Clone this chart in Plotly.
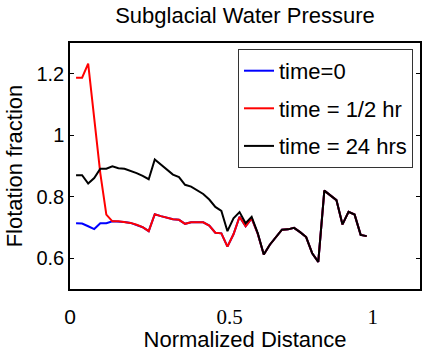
import plotly.graph_objects as go

# Normalized distance
distance = [0.02, 0.04, 0.06, 0.08, 0.10, 0.12, 0.14, 0.16, 0.18, 0.20,
            0.22, 0.24, 0.26, 0.28, 0.30, 0.32, 0.34, 0.36, 0.38, 0.40,
            0.42, 0.44, 0.46, 0.48, 0.50, 0.52, 0.54, 0.56, 0.58, 0.60,
            0.62, 0.64, 0.66, 0.68, 0.70, 0.72, 0.74, 0.76, 0.78, 0.80,
            0.82, 0.84, 0.86, 0.88, 0.90, 0.92, 0.94, 0.96, 0.98]

# time = 24 hrs
ff_24h = [0.870, 0.870, 0.843, 0.861, 0.891, 0.891, 0.899, 0.893, 0.891, 0.885,
          0.877, 0.868, 0.857, 0.921, 0.905, 0.890, 0.872, 0.864, 0.839, 0.833,
          0.822, 0.809, 0.791, 0.767, 0.754, 0.688, 0.730, 0.750, 0.714, 0.735,
          0.682, 0.612, 0.644, 0.667, 0.693, 0.694, 0.699, 0.685, 0.669, 0.616,
          0.588, 0.820, 0.805, 0.789, 0.710, 0.751, 0.742, 0.676, 0.672]

# time = 1/2 hr
ff_half = [1.187, 1.187, 1.233, 1.054, 0.877, 0.742, 0.720, 0.720, 0.718, 0.715,
           0.709, 0.701, 0.688, 0.743, 0.737, 0.731, 0.727, 0.725, 0.712, 0.717,
           0.717, 0.717, 0.706, 0.683, 0.681, 0.638, 0.678, 0.735, 0.704, 0.730,
           0.680, 0.612, 0.644, 0.667, 0.693, 0.694, 0.699, 0.685, 0.669, 0.616,
           0.588, 0.820, 0.805, 0.789, 0.710, 0.751, 0.742, 0.676, 0.672]

# time = 0
ff_0 = [0.714, 0.713, 0.704, 0.695, 0.714, 0.714, 0.720, 0.720, 0.718, 0.715,
        0.709, 0.701, 0.688, 0.743, 0.737, 0.731, 0.727, 0.725, 0.712, 0.717,
        0.717, 0.717, 0.706, 0.683, 0.681, 0.638, 0.678, 0.735, 0.704, 0.730,
        0.680, 0.612, 0.644, 0.667, 0.693, 0.694, 0.699, 0.685, 0.669, 0.616,
        0.588, 0.820, 0.805, 0.789, 0.710, 0.751, 0.742, 0.676, 0.672]

series_names = ["time=0", "time = 1/2 hr", "time = 24 hrs"]
series_colors = ["#0000FF", "#FF0000", "#000000"]

x_tickvals = [0, 0.527, 1]
x_ticktext = ["0",
              "<span style=\"font-family:'Liberation Serif'\">0.5</span>",
              "<span style=\"font-family:'Liberation Serif'\">1</span>"]
top_tickvals = [0.383, 0.770]

FONT = "Liberation Sans, Arial, sans-serif"

fig = go.Figure()
for name, ys, col in zip(series_names, [ff_0, ff_half, ff_24h], series_colors):
    fig.add_trace(go.Scatter(x=distance, y=ys, mode="lines", name=name,
                             legendgroup=name,
                             line=dict(color=col, width=2)))

fig.update_layout(
    width=424, height=352,
    margin=dict(l=70, r=2, t=43, b=58),
    paper_bgcolor="white", plot_bgcolor="white",
    font=dict(family=FONT, color="black", size=20),
    title=dict(text="Subglacial Water Pressure", x=0.5, xanchor="center",
               xref="paper", y=1 - 15/352, yanchor="middle",
               font=dict(size=22, family=FONT, color="black")),
    legend=dict(x=0.48, xanchor="left", y=0.976, yanchor="top",
                bgcolor="white", bordercolor="#333333", borderwidth=1,
                font=dict(size=22, family=FONT),
                traceorder="grouped", tracegroupgap=6),
    showlegend=True,
    xaxis=dict(range=[0, 1.156], tickvals=x_tickvals, ticktext=x_ticktext,
               ticks="", showgrid=False, zeroline=False,
               showline=True, linecolor="black", linewidth=1.5, mirror=True,
               tickfont=dict(size=21, family=FONT), ticklabelstandoff=8,
               title=dict(text="Normalized Distance", standoff=6,
                          font=dict(size=22, family=FONT))),
    xaxis2=dict(overlaying="x", matches="x", side="top",
                tickvals=top_tickvals, ticks="inside", ticklen=4,
                tickcolor="black", showticklabels=False, showgrid=False,
                zeroline=False, showline=False),
    yaxis=dict(range=[0.5, 1.3], tickvals=[0.6, 0.8, 1.0, 1.2],
               ticktext=["0.6", "0.8", "1", "1.2"],
               ticks="inside", ticklen=4, tickcolor="black",
               showgrid=False, zeroline=False,
               showline=True, linecolor="black", linewidth=1.5, mirror="ticks",
               tickfont=dict(size=20, family=FONT),
               title=dict(text="Flotation fraction", standoff=8,
                          font=dict(size=22, family=FONT))),
)

fig.write_html("out.html")
